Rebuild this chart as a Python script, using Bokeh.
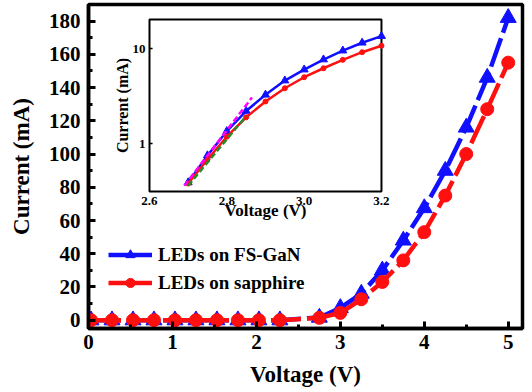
import math
import numpy as np
from bokeh.plotting import figure
from bokeh.models import Range1d, SingleIntervalTicker, Legend, LegendItem
from bokeh.core.properties import value
from bokeh.embed import file_html
from bokeh.resources import INLINE

# ---------------- data ----------------
voltage = [0.03, 0.28, 0.53, 0.78, 1.03, 1.28, 1.53, 1.78, 2.03, 2.28,
           2.75, 3.0, 3.25, 3.5, 3.75, 4.0, 4.25, 4.5, 4.75, 5.0]
current_fsgan = [0, 0, 0, 0, 0, 0, 0, 0, 0, 0,
                 1.6, 7.4, 16, 30, 48, 67.5, 90, 116, 146, 182]
current_sapphire = [0, 0, 0, 0, 0, 0, 0, 0, 0, 0,
                    1.4, 4.4, 12.6, 23, 36, 53, 75, 100, 127, 155]

inset_voltage = [2.70, 2.75, 2.80, 2.85, 2.90, 2.95, 3.00, 3.05, 3.10, 3.15, 3.20]
inset_fsgan = [0.39, 0.75, 1.35, 2.2, 3.26, 4.6, 6.0, 7.66, 9.5, 11.5, 13.5]
inset_sapphire = [0.38, 0.68, 1.18, 1.89, 2.77, 3.82, 4.99, 6.2, 7.6, 9.15, 10.7]

fit_fsgan_v = [2.69, 2.865]
fit_fsgan_i = [0.36, 3.05]
fit_sapphire_v = [2.70, 2.85]
fit_sapphire_i = [0.36, 1.95]

x_ticks_inset = [2.6, 2.8, 3.0, 3.2]
x_tick_labels_inset = ["2.6", "2.8", "3.0", "3.2"]
y_ticks_inset = [1, 10]
y_tick_labels_inset = ["1", "10"]

labels = ["LEDs on FS-GaN", "LEDs on sapphire"]

# ---------------- layout / style constants ----------------
BLUE = "#1010ff"
RED = "#ff1010"
FONT = "Liberation Serif"

MAIN_X = (0, 5.17)
MAIN_Y = (-5, 190)
INSET_X = (2.6, 3.2)          # inset axis limits
INSET_Y = (0.313, 20.2)       # inset current limits (log axis)
# where the inset frame sits, in main-axis units
INSET_TARGET_X = (0.7266, 3.490)
INSET_TARGET_Y = (77.45, 180.97)

lg = np.log10  # inset y axis is logarithmic (decades mapped linearly)

# ---------------- main figure ----------------
p = figure(width=526, height=392, output_backend="svg", toolbar_location=None,
           x_range=Range1d(*MAIN_X), y_range=Range1d(*MAIN_Y),
           min_border_left=88, min_border_right=4, min_border_top=4,
           min_border_bottom=64)
p.grid.visible = False
p.outline_line_color = "black"
p.outline_line_width = 3.5
p.background_fill_color = "white"

p.line(voltage, current_fsgan, line_color=BLUE, line_width=4.5, line_dash="30 6")
p.scatter(voltage, current_fsgan, marker="triangle", size=16,
          fill_color=BLUE, line_color=BLUE)
p.line(voltage, current_sapphire, line_color=RED, line_width=4.5, line_dash="30 6")
p.scatter(voltage, current_sapphire, marker="circle", size=13,
          fill_color=RED, line_color=RED)

# legend samples (hidden renderers, solid line like the reference legend)
leg_lb = p.line(voltage[:1], current_fsgan[:1], line_color=BLUE, line_width=4.5, visible=False)
leg_sb = p.scatter(voltage[:1], current_fsgan[:1], marker="triangle", size=14,
                   fill_color=BLUE, line_color=BLUE, visible=False)
leg_lr = p.line(voltage[:1], current_sapphire[:1], line_color=RED, line_width=4.5, visible=False)
leg_sr = p.scatter(voltage[:1], current_sapphire[:1], marker="circle", size=12,
                   fill_color=RED, line_color=RED, visible=False)

legend = Legend(items=[LegendItem(label=labels[0], renderers=[leg_lb, leg_sb]),
                       LegendItem(label=labels[1], renderers=[leg_lr, leg_sr])],
                location=(20, 34))
legend.label_text_font = FONT
legend.label_text_font_style = "bold"
legend.label_text_font_size = "19px"
legend.label_text_color = "black"
legend.glyph_width = 44
legend.glyph_height = 23
legend.label_height = 23
legend.spacing = 5
legend.padding = 0
legend.margin = 0
legend.label_standoff = 6
legend.border_line_color = None
legend.background_fill_alpha = 0
legend.click_policy = "none"
p.add_layout(legend)

p.xaxis.ticker = SingleIntervalTicker(interval=1, num_minor_ticks=2)
p.yaxis.ticker = SingleIntervalTicker(interval=20, num_minor_ticks=2)
for ax in (p.xaxis[0], p.yaxis[0]):
    ax.axis_line_width = 3.5
    ax.axis_line_color = "black"
    ax.major_tick_in = 7
    ax.major_tick_out = 0
    ax.major_tick_line_width = 3
    ax.minor_tick_in = 4
    ax.minor_tick_out = 0
    ax.minor_tick_line_width = 3
    ax.major_label_text_font = FONT
    ax.major_label_text_font_style = "bold"
    ax.major_label_text_font_size = "21px"
    ax.major_label_text_color = "black"
    ax.axis_label_text_font = FONT
    ax.axis_label_text_font_style = "bold"
    ax.axis_label_text_font_size = "23px"
    ax.axis_label_text_color = "black"
p.xaxis.axis_label = "Voltage (V)"
p.yaxis.axis_label = "Current (mA)"
p.xaxis.major_label_standoff = 6
p.xaxis.axis_label_standoff = 10
p.yaxis.major_label_standoff = 8
p.yaxis.axis_label_standoff = 12

# ---------------- inset (sub-coordinates inside the main frame) ----------------
ins = p.subplot(x_source=Range1d(*INSET_X), y_source=Range1d(lg(INSET_Y[0]), lg(INSET_Y[1])),
                x_target=Range1d(*INSET_TARGET_X), y_target=Range1d(*INSET_TARGET_Y))

ins.quad(left=[INSET_X[0]], right=[INSET_X[1]],
         bottom=[lg(INSET_Y[0])], top=[lg(INSET_Y[1])],
         fill_color="white", line_color="black", line_width=2)

ins.line(inset_voltage, lg(inset_fsgan), line_color=BLUE, line_width=2.5)
ins.scatter(inset_voltage, lg(inset_fsgan), marker="triangle", size=8,
            fill_color=BLUE, line_color=BLUE)
ins.line(inset_voltage, lg(inset_sapphire), line_color=RED, line_width=2.5)
ins.scatter(inset_voltage, lg(inset_sapphire), marker="circle", size=5,
            fill_color=RED, line_color=RED)
ins.line(fit_sapphire_v, lg(fit_sapphire_i), line_color="#2a8a2a", line_width=2.5, line_dash="6 3")
ins.line(fit_fsgan_v, lg(fit_fsgan_i), line_color="#ff00ff", line_width=2.5, line_dash="6 3")

# inset tick labels
ins.text(x=x_ticks_inset, y=[lg(INSET_Y[0])] * len(x_ticks_inset), text=x_tick_labels_inset,
         y_offset=9, text_align="center", text_baseline="middle",
         text_font=value(FONT), text_font_style="bold", text_font_size="13px",
         text_color="black")
ins.text(x=[INSET_X[0]] * len(y_ticks_inset), y=lg(y_ticks_inset), text=y_tick_labels_inset,
         x_offset=-4, text_align="right", text_baseline="middle",
         text_font=value(FONT), text_font_style="bold", text_font_size="13px",
         text_color="black")
ins.segment(x0=[INSET_X[0]] * len(y_ticks_inset), y0=lg(y_ticks_inset),
            x1=[INSET_X[0] + 0.008] * len(y_ticks_inset), y1=lg(y_ticks_inset),
            line_color="black", line_width=1.5)

# inset axis titles
ins.text(x=[(INSET_X[0] + INSET_X[1]) / 2], y=[lg(INSET_Y[0])], text=["Voltage (V)"],
         y_offset=19, text_align="center", text_baseline="middle",
         text_font=value(FONT), text_font_style="bold", text_font_size="17px",
         text_color="black")
ins.text(x=[INSET_X[0]], y=[(lg(INSET_Y[0]) + lg(INSET_Y[1])) / 2], text=["Current (mA)"],
         x_offset=-27, angle=math.pi / 2, text_align="center", text_baseline="middle",
         text_font=value(FONT), text_font_style="bold", text_font_size="16px",
         text_color="black")

open("out.html", "w").write(file_html(p, INLINE))
